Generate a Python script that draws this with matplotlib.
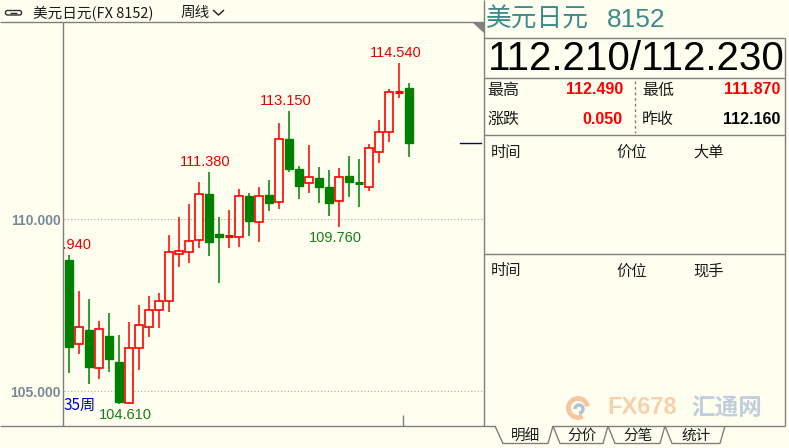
import numpy as np
import matplotlib
matplotlib.use("Agg")
import matplotlib.pyplot as plt
from matplotlib.patches import Rectangle, Polygon, FancyBboxPatch, Arc

plt.rcParams['font.family'] = ['Noto Sans CJK SC', 'DejaVu Sans']

# weekly candles USD/JPY (35 weeks)
opens  = [108.81, 106.37, 106.77, 105.66, 106.59, 105.84, 104.64, 106.24, 106.87, 107.35,
          107.61, 108.99, 109.03, 109.39, 110.73, 109.56, 109.50, 109.47, 110.67, 109.90,
          110.70, 110.49, 112.32, 111.45, 111.04, 111.19, 110.92, 110.52, 111.25, 111.07,
          110.94, 111.94, 112.54, 113.69, 113.82]
highs  = [108.94, 107.91, 107.67, 107.03, 107.27, 106.63, 107.00, 107.50, 107.76, 107.86,
          109.53, 110.05, 110.45, 111.08, 111.38, 110.07, 110.26, 110.86, 110.76, 110.94,
          111.13, 112.80, 113.15, 111.54, 112.15, 111.50, 111.42, 111.47, 111.83, 111.74,
          112.18, 112.88, 113.77, 114.54, 113.96]
lows   = [105.52, 106.08, 105.20, 105.34, 105.56, 104.62, 104.61, 105.61, 106.58, 106.84,
          107.30, 108.61, 108.73, 109.17, 108.92, 108.14, 109.17, 109.20, 109.52, 109.34,
          110.23, 110.28, 111.38, 110.57, 110.77, 110.47, 110.09, 109.76, 110.65, 110.36,
          110.82, 111.64, 112.25, 113.51, 111.81]
closes = [106.29, 106.85, 105.69, 106.79, 105.94, 104.69, 106.25, 106.91, 107.35, 107.62,
          109.03, 109.07, 109.35, 110.73, 109.34, 109.49, 109.52, 110.67, 109.95, 110.67,
          110.46, 112.32, 111.45, 110.97, 111.23, 110.92, 110.47, 111.23, 111.08, 111.05,
          112.06, 112.52, 113.70, 113.71, 112.21]
hi_marks = [0, 14, 22, 33]
lo_marks = [6, 27]
yticks = [105.0, 110.0]

quote = "112.210/112.230"
info_rows = [("最高", "112.490", "#FF0000", "最低", "111.870", "#FF0000"),
             ("涨跌", "0.050", "#FF0000", "昨收", "112.160", "#000000")]
tabs = ["明细", "分价", "分笔", "统计"]

bg = "#FFFFF0"
red = "#FF0000"
green = "#008000"
line_c = "#7F7F7F"
W, H = 789, 448

fig = plt.figure(figsize=(W / 100, H / 100), dpi=100, facecolor=bg)
ax = fig.add_axes([63.5 / W, (H - 426) / H, (484 - 63.5) / W, (426 - 22) / H])
ax.set_facecolor(bg)
ax.set_xlim(-0.5, 41.55)
ax.set_ylim(103.983, 115.727)
for s in ax.spines.values():
    s.set_visible(False)
ax.set_xticks([])
ax.set_yticks(yticks)
ax.set_yticklabels(["%.3f" % v for v in yticks], fontfamily="Liberation Sans",
                   fontweight="bold", fontsize=10, color="#7A8796")
ax.tick_params(axis="y", length=0, pad=2)
ax.yaxis.grid(True, linestyle=(0, (1, 2)), color="#A8A8A8", linewidth=0.8)
ax.set_axisbelow(True)

bw = 0.8
for i in range(len(opens)):
    o, h, l, c = opens[i], highs[i], lows[i], closes[i]
    col = red if c >= o else green
    ax.vlines(i, l, h, color=col, linewidth=1.1, zorder=2)
    if abs(c - o) < 0.04:
        ax.hlines((o + c) / 2, i - bw / 2, i + bw / 2, color=col, linewidth=2.2, zorder=3)
    elif c > o:
        ax.add_patch(Rectangle((i - bw / 2, o), bw, c - o, facecolor=bg,
                               edgecolor=col, linewidth=1.2, zorder=3))
    else:
        ax.add_patch(Rectangle((i - bw / 2, c), bw, o - c, facecolor=col,
                               edgecolor=col, linewidth=1.0, zorder=3))

for i in hi_marks:
    t = ax.annotate("%.3f" % highs[i], (i, highs[i]), xytext=(-3, 10),
                    textcoords="offset pixels", ha="center", va="center",
                    color="#E80000", fontsize=10.5, fontfamily="Liberation Sans")
    t.set_clip_box(ax.bbox)
    t.set_clip_on(True)
for i in lo_marks:
    t = ax.annotate("%.3f" % lows[i], (i, lows[i]), xytext=(-3, -11),
                    textcoords="offset pixels", ha="center", va="center",
                    color="#1E7A1E", fontsize=10.5, fontfamily="Liberation Sans")
    t.set_clip_box(ax.bbox)
    t.set_clip_on(True)

# last price marker
ax.axhline(closes[-1], xmin=0.944, xmax=0.992, color="#000080", linewidth=1.0)
ax.text(0.0, 0.05, "%d周" % len(opens), transform=ax.transAxes, color="#0000C8",
        fontsize=11, va="center", ha="left")

# ---- overlay for frame & right panel
ov = fig.add_axes([0, 0, 1, 1])
ov.set_xlim(0, W)
ov.set_ylim(H, 0)
ov.axis("off")
ov.patch.set_alpha(0)

def ln(xs, ys, **kw):
    kw.setdefault("color", line_c)
    kw.setdefault("linewidth", 1.0)
    ov.plot(xs, ys, solid_capstyle="butt", **kw)

ln([0, 484], [22, 22])
ln([63.5, 63.5], [22, 426])
ln([484.3, 484.3], [0, 426])
ln([484, 785], [38.3, 38.3])
ln([484, 785], [78, 78])
ln([484, 785], [135, 135])
ln([484, 785], [254.3, 254.3])
ln([785, 785], [38.3, 426])
ln([635.3, 635.3], [81, 133], linestyle=(0, (2, 2)))
ln([403, 403], [415, 426])
ov.add_patch(Polygon([(473, 22.7), (484, 22.7), (484, 33.3)], closed=True,
                     facecolor="#808080", edgecolor="none"))

# tabs at the bottom
ln([0, 495], [426, 426])
ln([553, 785], [426, 426])
tab_x = [(495, 503, 548, 553), (553, 560, 603, 608), (608, 615, 660, 665), (665, 672, 720, 725)]
for (a, b, c, d), name in zip(tab_x, tabs):
    ln([a, b, c, d], [426, 443.5, 443.5, 426])
    ov.text((b + c) / 2, 435.5, name, ha="center", va="center", fontsize=10.5, color="#1A1A1A")

# header
ov.add_patch(FancyBboxPatch((5.5, 10.5), 16, 4.5, boxstyle="round,pad=0,rounding_size=2",
                            facecolor="none", edgecolor="#303030", linewidth=1.0))
ln([10, 17], [12.75, 12.75], color="#303030")
ov.text(33, 12.5, "美元日元(FX 8152)", va="center", ha="left", fontsize=10.5, color="#1A1A1A")
ov.text(181, 12.5, "周线", va="center", ha="left", fontsize=10.5, color="#1A1A1A")
ln([213, 218.5, 224], [10, 15, 10], color="#1A1A1A")

# right panel
ov.text(486, 20, "美元日元", va="center", ha="left", fontsize=18.5, color="#3D8A8C")
ov.text(607, 20, "8152", va="center", ha="left", fontsize=19, color="#3D8A8C",
        fontfamily="Liberation Sans")
ov.text(488, 59.5, quote, va="center", ha="left", fontsize=29, color="#000000",
        fontfamily="Liberation Sans")
for r, (l1, v1, c1, l2, v2, c2) in enumerate(info_rows):
    yy = 90 + r * 29.5
    ov.text(487, yy, l1, va="center", ha="left", fontsize=11.5, color="#1A1A1A")
    ov.text(623, yy, v1, va="center", ha="right", fontsize=11.5, color=c1,
            fontweight="bold", fontfamily="Liberation Sans")
    ov.text(642, yy, l2, va="center", ha="left", fontsize=11.5, color="#1A1A1A")
    ov.text(780, yy, v2, va="center", ha="right", fontsize=11.5, color=c2,
            fontweight="bold", fontfamily="Liberation Sans")

for yy, last in [(152.5, "大单"), (271, "现手")]:
    ov.text(491, yy, "时间", va="center", ha="left", fontsize=11, color="#1A1A1A")
    ov.text(616, yy, "价位", va="center", ha="left", fontsize=11, color="#1A1A1A")
    ov.text(693, yy, last, va="center", ha="left", fontsize=11, color="#1A1A1A")

# watermark
ov.add_patch(Arc((578, 408), 19, 19, theta1=60, theta2=350, color="#F4B890",
                 linewidth=3.5, alpha=0.8))
ov.add_patch(Arc((579, 409), 8, 8, theta1=180, theta2=450, color="#9DB5D3",
                 linewidth=2.5, alpha=0.8))
ov.text(607, 408, "FX678", va="center", ha="left", fontsize=17, fontweight="bold",
        color="#F7C8A0", fontfamily="Liberation Sans", alpha=0.85)
ov.text(691, 408, "汇通网", va="center", ha="left", fontsize=17, fontweight="bold",
        color="#B5C6DA", alpha=0.85)

fig.savefig("out.png", dpi=100, facecolor=bg)
